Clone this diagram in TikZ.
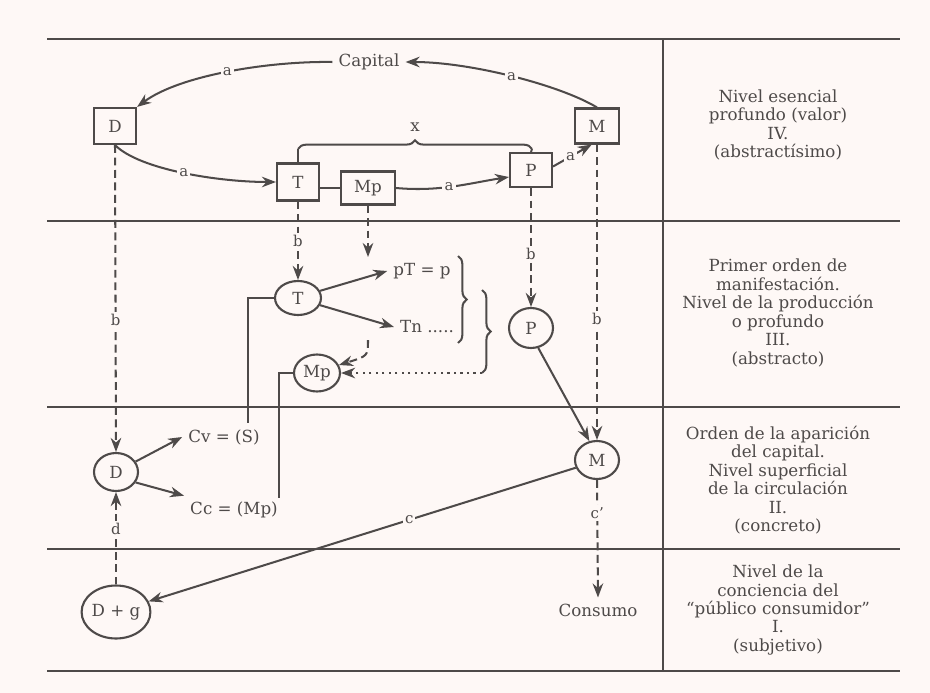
\documentclass[tikz,border=0pt]{standalone}
\usepackage{fontspec}
\setmainfont{DejaVu Serif}
\usetikzlibrary{arrows.meta,decorations.pathreplacing,shapes.geometric}
\definecolor{bg}{HTML}{FEF8F6}
\definecolor{ink}{HTML}{4E4A49}
\begin{document}
\begin{tikzpicture}[x=0.02cm,y=-0.02cm,
  every node/.style={text=ink,font=\fontsize{9.5}{10.5}\selectfont},
  box/.style={draw=ink,line width=1.2pt,inner sep=0pt},
  circ/.style={ellipse,draw=ink,line width=1.2pt,inner sep=0pt},
  conn/.style={draw=ink,line width=1.15pt},
  arr/.style={conn,-{Stealth[length=8pt,width=6pt]}},
  dashln/.style={conn,dash pattern=on 4.5pt off 2.6pt,-{Stealth[length=8pt,width=6pt]}},
  dotln/.style={conn,line width=1.3pt,dash pattern=on 1.3pt off 2.4pt,-{Stealth[length=8pt,width=6pt]}},
  lbl/.style={fill=bg,inner sep=1.2pt,font=\fontsize{8.5}{9}\selectfont},
  rulel/.style={draw=ink,line width=1pt},
  lvl/.style={align=center},
  brc/.style={conn,decorate,decoration={brace,amplitude=5pt}}]
\fill[bg] (0,0) rectangle (930,693);
\useasboundingbox (0,0) rectangle (930,693);
% frame
\draw[rulel] (47,39) -- (900,39);
\draw[rulel] (47,221) -- (900,221);
\draw[rulel] (47,407) -- (900,407);
\draw[rulel] (47,549) -- (900,549);
\draw[rulel] (47,671) -- (900,671);
\draw[rulel] (663,39) -- (663,671);
% level texts
\node[lvl] (L4) at (778,125) {Nivel esencial\\profundo (valor)\\IV.\\(abstractísimo)};
\node[lvl] (L3) at (778,313) {Primer orden de\\manifestación.\\Nivel de la producción\\o profundo\\III.\\(abstracto)};
\node[lvl] (L2) at (778,480) {Orden de la aparición\\del capital.\\Nivel superficial\\de la circulación\\II.\\(concreto)};
\node[lvl] (L1) at (778,610) {Nivel de la\\conciencia del\\“público consumidor”\\I.\\(subjetivo)};
% nodes
\node (cap) at (369,62) {Capital};
\node[box,minimum width=0.84cm,minimum height=0.72cm] (Db) at (115,126) {D};
\node[box,minimum width=0.88cm,minimum height=0.70cm] (Mb) at (597,126) {M};
\node[box,minimum width=0.84cm,minimum height=0.74cm] (Tb) at (298,182) {T};
\node[box,minimum width=1.08cm,minimum height=0.66cm] (Mpb) at (368,188) {Mp};
\node[box,minimum width=0.84cm,minimum height=0.68cm] (Pb) at (531,170) {P};
\node[circ,minimum width=0.92cm,minimum height=0.68cm] (Tc) at (298,298) {T};
\node[circ,minimum width=0.92cm,minimum height=0.74cm] (Mpc) at (317,373) {Mp};
\node[circ,minimum width=0.88cm,minimum height=0.80cm] (Pc) at (531,328) {P};
\node[circ,minimum width=0.88cm,minimum height=0.76cm] (Mc) at (597,460) {M};
\node[circ,minimum width=0.88cm,minimum height=0.76cm] (Dc) at (116,472) {D};
\node[circ,minimum width=1.26cm,minimum height=1.06cm] (Dg) at (116,612) {D + g};
\node (pT) at (422,271) {pT = p};
\node[anchor=west] (Tn) at (394,327) {Tn .....};
\node (Cv) at (224,437) {Cv = (S)};
\node (Cc) at (234,510) {Cc = (Mp)};
\node (cons) at (598,610) {Consumo};
\node (xl) at (415,127) {x};
\coordinate (mpend) at (368,257);
\coordinate (b2bot) at (482,373);
\coordinate (dashst) at (368,340);
\coordinate (tbr) at (298,149);
\coordinate (pbr) at (532,149);
\coordinate (tk) at (248,298);
\coordinate (tkend) at (248,423);
\coordinate (mk) at (279,373);
\coordinate (mkend) at (279,498);
% top level arrows
\draw[arr] (cap.west) .. controls (270,61) and (180,75) .. (Db.north east) node[lbl,pos=0.5]{a};
\draw[arr] (Mb.north) .. controls (560,85) and (470,62) .. (cap.east) node[lbl,pos=0.5]{a};
\draw[arr] (Db.south) .. controls (140,170) and (220,182) .. (Tb.west) node[lbl,pos=0.5]{a};
\draw[conn] (Tb.east |- Mpb.west) -- (Mpb.west);
\draw[arr] (Mpb.east) .. controls (440,192) and (470,183) .. ([yshift=-4pt]Pb.west) node[lbl,pos=0.45]{a};
\draw[arr] ([yshift=2pt]Pb.east) -- ([xshift=-3pt]Mb.south) node[lbl,pos=0.45]{a};
% brace x
\draw[conn] (Tb.north) -- (tbr);
\draw[conn] (Pb.north) -- (pbr);
\draw[brc] (tbr) -- (pbr);
% dashed verticals
\draw[dashln] (Db.south) -- (Dc.north) node[lbl,pos=0.57]{b};
\draw[dashln] (Tb.south) -- (Tc.north) node[lbl,pos=0.5]{b};
\draw[dashln] (Mpb.south) -- (mpend);
\draw[dashln] (Pb.south) -- (Pc.north) node[lbl,pos=0.55]{b};
\draw[dashln] (Mb.south) -- (Mc.north) node[lbl,pos=0.59]{b};
\draw[dashln] (Mc.south) -- (cons.north) node[lbl,pos=0.28]{c’};
\draw[dashln] (Dg.north) -- (Dc.south) node[lbl,pos=0.6]{d};
% production level
\draw[arr] (Tc.18) -- (pT.west);
\draw[arr] (Tc.-18) -- (Tn.west);
\draw[brc] (458,256) -- (458,343);
\draw[brc] (482,290) -- (b2bot);
\draw[dotln] (b2bot) -- (Mpc.east);
\draw[conn,dash pattern=on 4.5pt off 2.6pt,-{Stealth[length=8pt,width=6pt]}] (dashst) .. controls (368,356) .. (Mpc.20);
\draw[conn] (Tc.west) -- (tk) -- (tkend);
\draw[conn] (Mpc.west) -- (mk) -- (mkend);
\draw[arr] (Pc.-70) -- (Mc.112);
% circulation level
\draw[arr] (Dc.28) -- (Cv.west);
\draw[arr] (Dc.-28) -- (Cc.north west);
\draw[arr] (Mc.200) -- (Dg.18) node[lbl,pos=0.39]{c};
\end{tikzpicture}
\end{document}
